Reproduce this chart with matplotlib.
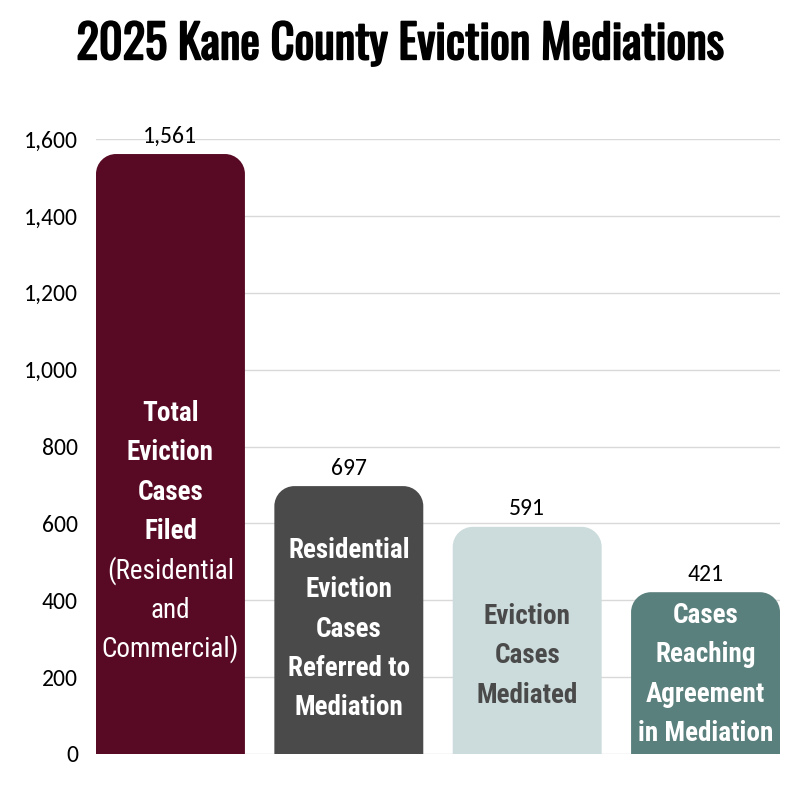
import matplotlib
matplotlib.use("Agg")
import matplotlib.pyplot as plt
import matplotlib.patheffects as pe
from matplotlib.path import Path
from matplotlib.patches import PathPatch
from matplotlib.ticker import FuncFormatter

# data
title = "2025 Kane County Eviction Mediations"
values = [1561, 697, 591, 421]
bar_lines = [
    [("Total", "bold"), ("Eviction", "bold"), ("Cases", "bold"), ("Filed", "bold"),
     ("(Residential", "normal"), ("and", "normal"), ("Commercial)", "normal")],
    [("Residential", "bold"), ("Eviction", "bold"), ("Cases", "bold"),
     ("Referred to", "bold"), ("Mediation", "bold")],
    [("Eviction", "bold"), ("Cases", "bold"), ("Mediated", "bold")],
    [("Cases", "bold"), ("Reaching", "bold"), ("Agreement", "bold"), ("in Mediation", "bold")],
]
bar_colors = ["#580A24", "#4A4A4A", "#CCDBDB", "#5A807D"]
text_colors = ["white", "white", "#4A4A4A", "white"]
first_baseline_px = [421, 558, 624, 623]   # pixel row of first text line baseline
y_ticks = [0, 200, 400, 600, 800, 1000, 1200, 1400, 1600]

cond = ["Roboto Condensed", "DejaVu Sans"]
head = ["Oswald", "Roboto Condensed", "DejaVu Sans"]
body = ["Carlito", "DejaVu Sans"]

fig = plt.figure(figsize=(8, 8), dpi=100)
ax = fig.add_axes([0.12, 0.0575, 0.855, 0.7687])
bar_w = 0.835
ax.set_xlim(-bar_w / 2, len(values) - 1 + bar_w / 2)
ax.set_ylim(0, 1600)

# scale of data units in pixels, used for round corners
p0 = ax.transData.transform((0, 0))
p1 = ax.transData.transform((1, 1))
px_x = p1[0] - p0[0]
px_y = p1[1] - p0[1]
r_px = 20
rx = r_px / px_x
ry = r_px / px_y
k = 0.5523

for i, (v, c) in enumerate(zip(values, bar_colors)):
    x0 = i - bar_w / 2
    x1 = i + bar_w / 2
    verts = [(x0, 0), (x0, v - ry),
             (x0, v - ry * (1 - k)), (x0 + rx * (1 - k), v), (x0 + rx, v),
             (x1 - rx, v),
             (x1 - rx * (1 - k), v), (x1, v - ry * (1 - k)), (x1, v - ry),
             (x1, 0), (x0, 0)]
    codes = [Path.MOVETO, Path.LINETO,
             Path.CURVE4, Path.CURVE4, Path.CURVE4,
             Path.LINETO,
             Path.CURVE4, Path.CURVE4, Path.CURVE4,
             Path.LINETO, Path.CLOSEPOLY]
    ax.add_patch(PathPatch(Path(verts, codes), facecolor=c, edgecolor="none", zorder=2))
    ax.annotate(f"{v:,}", (i, v), xytext=(0, 13), textcoords="offset points",
                ha="center", va="center", fontsize=17, family=body, color="black")

# text inside bars, one line at a time (39 px line step)
fig_h = 800
for i, lines in enumerate(bar_lines):
    for j, (txt, w) in enumerate(lines):
        ypix = first_baseline_px[i] + 39.3 * j
        yd = ax.transData.inverted().transform((0, fig_h - ypix))[1]
        ax.text(i, yd, txt, ha="center", va="baseline", fontsize=19.5,
                fontweight=w, family=cond, color=text_colors[i], zorder=3)

ax.set_yticks(y_ticks)
ax.yaxis.set_major_formatter(FuncFormatter(lambda v, p: f"{int(v):,}"))
ax.tick_params(axis="y", length=0, pad=13, labelsize=17)
for lab in ax.get_yticklabels():
    lab.set_family(body)
ax.set_xticks([])
ax.grid(axis="y", color="#D9D9D9", linewidth=1)
ax.set_axisbelow(True)
for s in ax.spines.values():
    s.set_visible(False)

# Oswald comes in its light default weight, so thicken it a bit with a stroke
fig.text(0.5, 0.944, title, ha="center", va="center", fontsize=33.5,
         fontweight="bold", family=head, color="black",
         path_effects=[pe.withStroke(linewidth=1.3, foreground="black")])

fig.savefig("out.png", dpi=100, facecolor="white")
